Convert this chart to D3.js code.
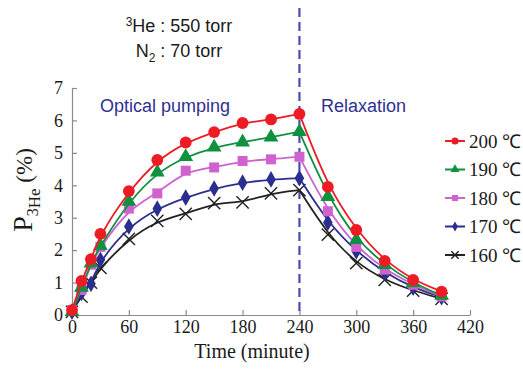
<!DOCTYPE html>
<html>
<head>
<meta charset="utf-8">
<script src="https://cdn.jsdelivr.net/npm/d3@7"></script>
<style>
  body { margin: 0; background: #fff; }
  svg { display: block; }
</style>
</head>
<body>
<div id="chart"></div>
<script>
// polarization build-up and relaxation data
const times = [0, 10, 20, 30, 60, 90, 120, 150, 180, 210, 240, 270, 300, 330, 360, 390];
const p200 = [0.15, 1.05, 1.72, 2.5, 3.82, 4.78, 5.32, 5.64, 5.92, 6.03, 6.2, 3.95, 2.62, 1.67, 1.08, 0.72];
const p190 = [0.1, 0.85, 1.6, 2.14, 3.5, 4.4, 4.88, 5.17, 5.33, 5.48, 5.65, 3.65, 2.32, 1.55, 0.99, 0.6];
const p180 = [0.15, 0.77, 1.55, 2.1, 3.28, 3.75, 4.45, 4.55, 4.75, 4.8, 4.88, 3.2, 2.1, 1.4, 0.93, 0.57];
const p170 = [0.1, 0.68, 0.96, 1.7, 2.73, 3.28, 3.62, 3.9, 4.08, 4.18, 4.22, 2.85, 1.96, 1.3, 0.84, 0.55];
const p160 = [0.1, 0.57, 1.0, 1.45, 2.35, 2.9, 3.12, 3.45, 3.47, 3.75, 3.85, 2.48, 1.6, 1.08, 0.75, 0.5];
const labels = ["200 \u2103", "190 \u2103", "180 \u2103", "170 \u2103", "160 \u2103"];
const xTicks = [0, 60, 120, 180, 240, 300, 360, 420];
const yTicks = [0, 1, 2, 3, 4, 5, 6, 7];
const pumpEnd = 240;

const series = [
  {name: labels[0], values: p200, color: "#ed1c24", shape: "circle"},
  {name: labels[1], values: p190, color: "#0f9140", shape: "triangle"},
  {name: labels[2], values: p180, color: "#cf62cf", shape: "square"},
  {name: labels[3], values: p170, color: "#2b2e8f", shape: "diamond"},
  {name: labels[4], values: p160, color: "#222222", shape: "cross"}
];

const W = 523, H = 375;
const serif = "'Liberation Serif', 'Times New Roman', serif";
const sans = "'Liberation Sans', Arial, sans-serif";

const svg = d3.select("#chart").append("svg")
    .attr("width", W)
    .attr("height", H);

const x = d3.scaleLinear().domain([0, 420]).range([72, 470]);
const y = d3.scaleLinear().domain([0, 7]).range([315, 88]);

// axes
const axisColor = "#8a8a8a";
const gx = svg.append("g")
    .attr("transform", `translate(0,${y(0)})`)
    .call(d3.axisBottom(x).tickValues(xTicks).tickSizeInner(-5).tickSizeOuter(0).tickPadding(5));
const gy = svg.append("g")
    .attr("transform", `translate(${x(0)},0)`)
    .call(d3.axisLeft(y).tickValues(yTicks).tickFormat(d3.format("d")).tickSizeInner(-5).tickSizeOuter(0).tickPadding(9));
[gx, gy].forEach(g => {
  g.select(".domain").attr("stroke", axisColor).attr("stroke-width", 1.2);
  g.selectAll(".tick line").attr("stroke", axisColor).attr("stroke-width", 1.2);
  g.selectAll(".tick text").attr("fill", "#1a1a1a").style("font-family", serif).style("font-size", "18px");
});

// axis titles
svg.append("text")
    .attr("x", 252).attr("y", 358)
    .attr("text-anchor", "middle")
    .style("font-family", serif).style("font-size", "20px").attr("fill", "#1a1a1a")
    .text("Time (minute)");

const yl = svg.append("text")
    .attr("transform", `translate(32,190) rotate(-90)`)
    .attr("text-anchor", "middle")
    .style("font-family", serif).attr("fill", "#1a1a1a");
yl.append("tspan").style("font-size", "28px").text("P");
yl.append("tspan").style("font-size", "16px").attr("dy", 6).text("3");
yl.append("tspan").style("font-size", "17px").attr("dy", 2).text("He");
yl.append("tspan").style("font-size", "23px").attr("dy", -8).text(" (%)");

// divider between pumping and relaxation
svg.append("line")
    .attr("x1", x(pumpEnd)).attr("x2", x(pumpEnd))
    .attr("y1", 8).attr("y2", y(0))
    .attr("stroke", "#4b4bb4").attr("stroke-width", 2.2)
    .attr("stroke-dasharray", "9,5");

// annotations
const note = svg.append("g").style("font-family", sans).style("font-size", "18px").attr("fill", "#1a1a1a");
const n1 = note.append("text").attr("x", 179).attr("y", 32).attr("text-anchor", "middle");
n1.append("tspan").style("font-size", "12px").attr("dy", -6).text("3");
n1.append("tspan").attr("dy", 6).text("He : 550 torr");
const n2 = note.append("text").attr("x", 179).attr("y", 57).attr("text-anchor", "middle");
n2.append("tspan").text("N");
n2.append("tspan").style("font-size", "12px").attr("dy", 5).text("2");
n2.append("tspan").attr("dy", -5).text(" : 70 torr");

svg.append("text").attr("x", 100).attr("y", 112)
    .style("font-family", sans).style("font-size", "18px").attr("fill", "#2e3192")
    .text("Optical pumping");
svg.append("text").attr("x", 321).attr("y", 112)
    .style("font-family", sans).style("font-size", "18px").attr("fill", "#2e3192")
    .text("Relaxation");

// markers
const symbols = {
  circle: d3.symbol().type(d3.symbolCircle).size(110),
  triangle: d3.symbol().type(d3.symbolTriangle).size(95),
  square: d3.symbol().type(d3.symbolSquare).size(100),
  diamond: d3.symbol().type(d3.symbolDiamond).size(80),
  cross: d3.symbol().type(d3.symbolX).size(100)
};
function drawMarker(g, s, px, py, scale) {
  const p = g.append("path")
      .attr("transform", `translate(${px},${py}) scale(${scale || 1})`)
      .attr("d", symbols[s.shape]());
  if (s.shape === "cross") {
    p.attr("fill", "none").attr("stroke", s.color).attr("stroke-width", 1.4 / (scale || 1));
  } else {
    p.attr("fill", s.color);
  }
}

// smooth fit-like curves, split at the end of pumping so the peak stays sharp
const line = d3.line().curve(d3.curveBasis).x(d => x(d[0])).y(d => y(d[1]));

series.slice().reverse().forEach(s => {
  const pts = times.map((t, i) => [t, s.values[i]]);
  const g = svg.append("g");
  const pump = pts.filter(d => d[0] <= pumpEnd);
  const relax = pts.filter(d => d[0] >= pumpEnd);
  [pump, relax].forEach(seg => {
    g.append("path").datum(seg)
        .attr("fill", "none")
        .attr("stroke", s.color)
        .attr("stroke-width", 1.8)
        .attr("d", line);
  });
  pts.forEach(d => drawMarker(g, s, x(d[0]), y(d[1])));
});

// legend
const leg = svg.append("g");
series.forEach((s, i) => {
  const ly = 141 + i * 28.5;
  leg.append("line")
      .attr("x1", 445).attr("x2", 465)
      .attr("y1", ly).attr("y2", ly)
      .attr("stroke", s.color).attr("stroke-width", 2);
  drawMarker(leg, s, 455, ly, 0.6);
  leg.append("text")
      .attr("x", 469).attr("y", ly)
      .attr("dy", "0.35em")
      .style("font-family", serif).style("font-size", "19px").attr("fill", "#1a1a1a")
      .text(s.name);
});
</script>
</body>
</html>
